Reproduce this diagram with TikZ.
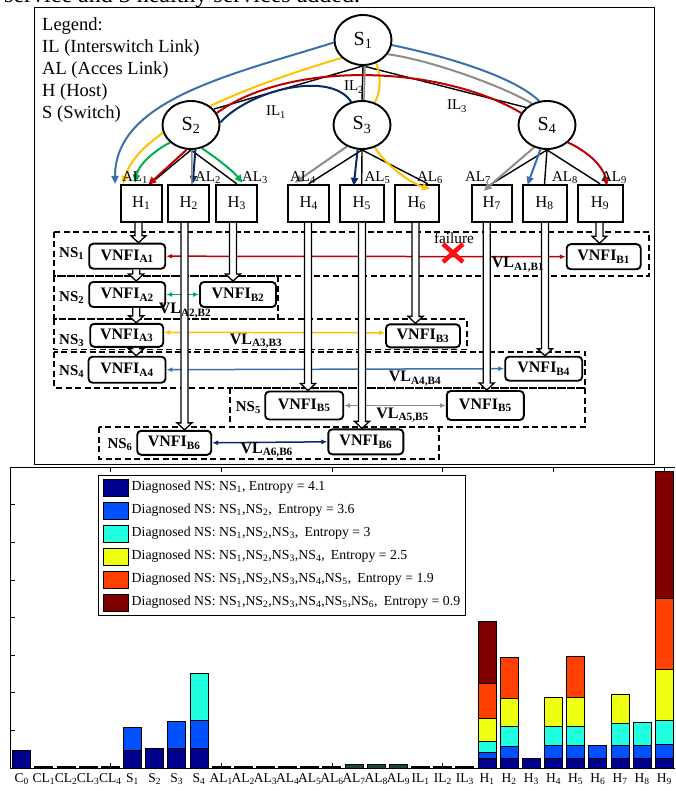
\documentclass[tikz,border=0pt]{standalone}
\usepackage{fontspec}
\setmainfont{Liberation Serif}
\usetikzlibrary{shapes.geometric,arrows.meta,calc}
\pgfdeclarelayer{fg}
\pgfsetlayers{main,fg}
\definecolor{cblue}{HTML}{3D6FA8}
\definecolor{cyel}{HTML}{FFC000}
\definecolor{cred}{HTML}{C00000}
\definecolor{cnavy}{HTML}{0A2A66}
\definecolor{cgreen}{HTML}{00B050}
\definecolor{cgray}{HTML}{8C8C8C}
\definecolor{xred}{HTML}{FF1010}
\definecolor{jnavy}{HTML}{00008F}
\definecolor{jblue}{HTML}{0050FF}
\definecolor{jcyan}{HTML}{20FFDF}
\definecolor{jyel}{HTML}{EFFF10}
\definecolor{jorange}{HTML}{FF4000}
\definecolor{jdred}{HTML}{800000}
\definecolor{jteal}{HTML}{1A4538}
\newcommand\fsz[1]{\fontsize{#1}{#1}\selectfont}
\newcommand\sbs[2]{#1\textsubscript{#2}}
\newcommand\hollowarr[2]{%
  \draw[hollowst] let \p1=(#1), \p2=(#2) in
   (\x1-3.5pt,\y1) -- (\x1-3.5pt,\y2+7pt) -- (\x1-7.5pt,\y2+7pt) -- (\x1,\y2)
   -- (\x1+7.5pt,\y2+7pt) -- (\x1+3.5pt,\y2+7pt) -- (\x1+3.5pt,\y1);}
\newcommand\bseg[4]{\draw[barst,fill=#1] ({21.7+22.16*#2-9},#3) rectangle ({21.7+22.16*#2+9},#4);}
\newcommand\stk[2]{\gdef\prevy{768}\foreach \c/\t in {#2} {\bseg{\c}{#1}{\prevy}{\t}\xdef\prevy{\t}}}
\tikzset{
 sw/.style={ellipse,draw,line width=1.9pt,fill=white,minimum width=57pt,minimum height=49pt,inner sep=0pt,font=\fsz{20}},
 host/.style={draw,line width=2pt,fill=white,minimum height=37pt,inner sep=0pt,font=\fsz{16.5}},
 vnf/.style={draw,rounded corners=4pt,line width=1.9pt,fill=white,minimum width=76pt,minimum height=25pt,inner sep=0pt,font=\bfseries\fsz{16}},
 nsbox/.style={line width=1.9pt,dash pattern=on 6pt off 3.5pt},
 nslab/.style={anchor=base,inner sep=0pt,font=\bfseries\fsz{15}},
 vllab/.style={anchor=base,inner sep=0pt,font=\bfseries\fsz{16}},
 lbl/.style={anchor=base,inner sep=0pt,font=\fsz{15}},
 blk/.style={line width=1.4pt},
 cur/.style={line width=2pt,-{Triangle[length=8pt,width=7pt]}},
 curn/.style={line width=2pt},
 vl/.style={line width=1.5pt,{Latex[length=6pt,width=5pt]}-{Latex[length=6pt,width=5pt]}},
 hollowst/.style={draw,fill=white,line width=1.3pt,line join=miter},
 barst/.style={draw=black,line width=0.9pt},
 tlab/.style={anchor=base,inner sep=0pt,font=\fsz{13.5}},
 leg/.style={anchor=base west,inner sep=0pt,font=\fsz{18.5}},
 cleg/.style={anchor=base west,inner sep=0pt,font=\fsz{13.8}},
}
\begin{document}
\begin{tikzpicture}[x=1pt,y=-1pt]
\useasboundingbox (0,0) rectangle (675,791);
\node[anchor=base west,inner sep=0pt,font=\fsz{24}] (cap) at (4,3) {service and 3 healthy services added.};
\draw[line width=0.9pt] (34,7) rectangle (654,464);
\node[leg] (lg0) at (42,30.5) {Legend:};
\node[leg] (lg1) at (42,52.5) {IL (Interswitch Link)};
\node[leg] (lg2) at (42,74.5) {AL (Acces Link)};
\node[leg] (lg3) at (42,96.5) {H (Host)};
\node[leg] (lg4) at (42,118.5) {S (Switch)};
% switches
\begin{pgfonlayer}{fg}
\node[sw,minimum height=50pt] (S1) at (363,40) {\sbs{S}{1}};
\node[sw,minimum height=48pt] (S2) at (191,125) {\sbs{S}{2}};
\node[sw,minimum height=48pt] (S3) at (362,125) {\sbs{S}{3}};
\node[sw,minimum height=48pt] (S4) at (547,125) {\sbs{S}{4}};
\end{pgfonlayer}
% hosts
\node[host,minimum width=41pt] (H1) at (141.2,203.3) {\sbs{H}{1}};
\node[host,minimum width=41pt] (H2) at (188.8,203.3) {\sbs{H}{2}};
\node[host,minimum width=41pt] (H3) at (236.7,203.3) {\sbs{H}{3}};
\node[host,minimum width=41pt] (H4) at (308.7,203.3) {\sbs{H}{4}};
\node[host,minimum width=44pt] (H5) at (361.7,203.3) {\sbs{H}{5}};
\node[host,minimum width=44pt] (H6) at (416.8,203.3) {\sbs{H}{6}};
\node[host,minimum width=40pt] (H7) at (491.7,203.3) {\sbs{H}{7}};
\node[host,minimum width=44pt] (H8) at (544.5,203.3) {\sbs{H}{8}};
\node[host,minimum width=45pt] (H9) at (600,203.3) {\sbs{H}{9}};
% black links
\draw[blk] (S1.south) -- (S2.35);
\draw[blk] (S1.south) -- (S3.north);
\draw[blk] (S1.south) -- (S4.140);
\draw[blk] (S2.south) -- ([xshift=9pt]H1.north);
\draw[blk] (S2.south) -- (H3.north);
\draw[blk] (S3.south) -- (H4.north);
\draw[blk] (S3.south) -- (H5.north);
\draw[blk] (S3.south) -- ([xshift=11pt]H6.north);
\draw[blk] (S4.south) -- (H7.north);
\draw[blk] (S4.south) -- (H8.north);
\draw[blk] (S4.south) -- (H9.north);
% free ends
\coordinate (eB1) at (115,184);
\coordinate (eY1) at (123,184);
\coordinate (eY6) at (430,189);
% coloured paths
\draw[cur,cblue] (S1.185) .. controls (230,75) and (115,100) .. (eB1);
\draw[curn,cblue] (S1.-10) .. controls (440,55) and (512,75) .. (S4.108);
\draw[cur,cblue] (S4.-105) -- ([xshift=-17pt,yshift=-1pt]H8.north);
\draw[cur,cyel] (S1.220) .. controls (260,82) and (140,125) .. (eY1);
\draw[curn,cyel] (S1.-60) .. controls (381,77) and (381,90) .. (S3.60);
\draw[cur,cyel] (S3.-60) .. controls (382,160) and (405,181) .. (eY6);
\draw[curn,cred] (S2.25) .. controls (290,60) and (440,65) .. (S4.155);
\draw[cur,cred] (S2.-100) -- ([xshift=7pt,yshift=-1pt]H1.north);
\draw[cur,cred] (S4.-40) .. controls (585,150) and (603,165) .. ([xshift=7pt,yshift=-2pt]H9.north);
\draw[curn,cnavy] (S2.5) .. controls (250,90) and (330,70) .. (S3.115);
\draw[cur,cnavy] (S2.-80) -- ([xshift=4pt]H2.north);
\draw[cur,cnavy] (S3.-100) -- ([xshift=-8pt,yshift=-2pt]H5.north);
\draw[cur,cgreen] (S2.220) .. controls (155,150) and (138,165) .. ([xshift=-6pt,yshift=1pt]H1.north);
\draw[cur,cgreen] (S2.-65) .. controls (215,157) and (232,170) .. ([xshift=6pt,yshift=1pt]H3.north);
\draw[line width=1.6pt,cgray] ([xshift=2pt]S1.south) -- ([xshift=2pt]S3.north);
\draw[curn,cgray] (S1.-30) .. controls (430,60) and (500,85) .. (S4.125);
\draw[cur,cgray] (S3.-125) -- ([xshift=-14pt,yshift=1pt]H4.north);
\draw[cur,cgray] (S4.-120) -- ([xshift=-8pt,yshift=-7pt]H7.north);
\draw[line width=1.5pt,cgray] ([xshift=1pt]S2.south) -- ([xshift=3pt]H2.north);
% link labels
\node[lbl] (al1) at (135,181.5) {\sbs{AL}{1}};
\node[lbl] (al2) at (208,181.5) {\sbs{AL}{2}};
\node[lbl] (al3) at (255,181.5) {\sbs{AL}{3}};
\node[lbl] (al4) at (303,181.5) {\sbs{AL}{4}};
\node[lbl] (al5) at (377.5,181.5) {\sbs{AL}{5}};
\node[lbl] (al6) at (430,181.5) {\sbs{AL}{6}};
\node[lbl] (al7) at (478,181.5) {\sbs{AL}{7}};
\node[lbl] (al8) at (565,181.5) {\sbs{AL}{8}};
\node[lbl] (al9) at (614,181.5) {\sbs{AL}{9}};
\node[lbl] (il1) at (276,116) {\sbs{IL}{1}};
\node[lbl] (il2) at (354,91) {\sbs{IL}{2}};
\node[lbl] (il3) at (457,110) {\sbs{IL}{3}};
% network service boxes
\draw[nsbox] (54,231.7) rectangle (649.3,276);
\draw[nsbox] (54,276) rectangle (278,319);
\draw[nsbox] (54,319) rectangle (466.7,349.5);
\draw[nsbox] (54,351.7) rectangle (585,387.7);
\draw[nsbox] (230,387.7) rectangle (585,427.3);
\draw[nsbox] (99.3,427.3) rectangle (439.3,459);
% VNFI nodes
\node[vnf] (A1) at (127.2,256.2) {VNFI\textsubscript{A1}};
\node[vnf,minimum width=74pt] (B1) at (603.7,256.7) {VNFI\textsubscript{B1}};
\node[vnf] (A2) at (127.2,294.5) {VNFI\textsubscript{A2}};
\node[vnf] (B2) at (238,294.5) {VNFI\textsubscript{B2}};
\node[vnf,minimum width=73pt,minimum height=23pt] (A3) at (126.7,335.3) {VNFI\textsubscript{A3}};
\node[vnf,minimum width=74pt,minimum height=23pt] (B3) at (423,335.8) {VNFI\textsubscript{B3}};
\node[vnf,minimum width=77pt,minimum height=26pt] (A4) at (127,369.7) {VNFI\textsubscript{A4}};
\node[vnf,minimum width=77pt,minimum height=24pt] (B4) at (543.7,368.7) {VNFI\textsubscript{B4}};
\node[vnf,minimum width=78pt,minimum height=28pt] (B5L) at (304.2,405.5) {VNFI\textsubscript{B5}};
\node[vnf,minimum width=77pt,minimum height=29pt] (B5R) at (485.3,405.5) {VNFI\textsubscript{B5}};
\node[vnf,minimum width=74pt,minimum height=24pt] (B6L) at (174.2,442.8) {VNFI\textsubscript{B6}};
\node[vnf,minimum width=75pt,minimum height=25pt] (B6R) at (365.8,441.8) {VNFI\textsubscript{B6}};
% virtual links
\draw[vl,cred] (A1.east) -- (B1.west);
\draw[vl,cgreen] (A2.east) -- (B2.west);
\draw[vl,cyel] ([yshift=3pt]A3.east) -- ([yshift=3pt]B3.west);
\draw[vl,cblue] (A4.east) -- (B4.west);
\draw[vl,cgray] (B5L.east) -- (B5R.west);
\draw[vl,cnavy] (B6L.east) -- (B6R.west);
% hollow arrows
\hollowarr{[xshift=-2.7pt]H1.south}{A1.north}
\hollowarr{[xshift=9pt]A1.south}{A2.north}
\hollowarr{[xshift=9pt]A2.south}{A3.north}
\hollowarr{[xshift=9.5pt]A3.south}{A4.north}
\hollowarr{[xshift=-4.3pt]H2.south}{B6L.north}
\hollowarr{[xshift=-3.7pt]H3.south}{B2.north}
\hollowarr{[xshift=-0.7pt]H4.south}{B5L.north}
\hollowarr{[xshift=0.3pt]H5.south}{B6R.north}
\hollowarr{[xshift=-1.3pt]H6.south}{B3.north}
\hollowarr{[xshift=-5pt]H7.south}{B5R.north}
\hollowarr{[xshift=0.5pt]H8.south}{B4.north}
\hollowarr{[xshift=-0.5pt]H9.south}{B1.north}
% failure
\node[lbl,font=\fsz{15.3}] (fail) at (454,243.5) {failure};
\draw[xred,line width=4.5pt] (443,244) -- (463,262) (443,262) -- (463,244);
% labels
\node[nslab] (ns1) at (71.7,257.3) {NS\textsubscript{1}};
\node[nslab] (ns2) at (71.7,301.7) {NS\textsubscript{2}};
\node[nslab] (ns3) at (71.7,344) {NS\textsubscript{3}};
\node[nslab] (ns4) at (71.7,375) {NS\textsubscript{4}};
\node[nslab] (ns5) at (248.3,411.7) {NS\textsubscript{5}};
\node[nslab] (ns6) at (120,448.3) {NS\textsubscript{6}};
\node[vllab] (vl1) at (518,268) {VL\textsubscript{A1,B1}};
\node[vllab] (vl2) at (185,313.5) {VL\textsubscript{A2,B2}};
\node[vllab] (vl3) at (256,344) {VL\textsubscript{A3,B3}};
\node[vllab] (vl4) at (415,381.5) {VL\textsubscript{A4,B4}};
\node[vllab] (vl5) at (402.5,418) {VL\textsubscript{A5,B5}};
\node[vllab] (vl6) at (266.7,453) {VL\textsubscript{A6,B6}};
% ---------------- chart ----------------
\draw[line width=0.9pt] (675,467) -- (10,467) -- (10,768) -- (675,768);
\foreach \k in {1,...,7} \draw[line width=0.8pt] (10,{768-37.6*\k}) -- (15,{768-37.6*\k});
\foreach \i in {4,9,14,19,24,29} {
  \draw[line width=0.8pt] ({21.7+22.16*\i},768) -- ({21.7+22.16*\i},763);
  \draw[line width=0.8pt] ({21.7+22.16*\i},467) -- ({21.7+22.16*\i},472);
}
\foreach \i in {1,2,3,4,9,10,11,12,13,14,18,19,20} {\bseg{black}{\i}{768}{766}}
\foreach \i in {15,16,17} {\bseg{jteal}{\i}{768}{764}}
\stk{0}{jnavy/750.7}
\stk{5}{jnavy/750.7,jblue/727.3}
\stk{6}{jnavy/748.3}
\stk{7}{jnavy/748.3,jblue/721.7}
\stk{8}{jnavy/748.3,jblue/720.3,jcyan/673.3}
\stk{21}{jnavy/758.3,jblue/752.3,jcyan/741.7,jyel/718.3,jorange/683.3,jdred/621.7}
\stk{22}{jnavy/758.3,jblue/746.7,jcyan/726.7,jyel/698.7,jorange/657.3}
\stk{23}{jnavy/758.3}
\stk{24}{jnavy/758.3,jblue/745,jcyan/726,jyel/697.7}
\stk{25}{jnavy/758.3,jblue/745,jcyan/726,jyel/697.7,jorange/656.7}
\stk{26}{jnavy/758.3,jblue/745}
\stk{27}{jnavy/758.3,jblue/745,jcyan/723.3,jyel/694.3}
\stk{28}{jnavy/758.3,jblue/745,jcyan/722.7}
\stk{29}{jnavy/758.3,jblue/744.3,jcyan/720,jyel/669.3,jorange/598.3,jdred/471.7}
\foreach \i/\a/\b in {0/C/0,1/CL/1,2/CL/2,3/CL/3,4/CL/4,5/S/1,6/S/2,7/S/3,8/S/4,9/AL/1,10/AL/2,11/AL/3,12/AL/4,13/AL/5,14/AL/6,15/AL/7,16/AL/8,17/AL/9,18/IL/1,19/IL/2,20/IL/3,21/H/1,22/H/2,23/H/3,24/H/4,25/H/5,26/H/6,27/H/7,28/H/8,29/H/9}
  {\node[tlab] (t\i) at ({21.7+22.16*\i},782) {\sbs{\a}{\b}};}
% chart legend
\draw[line width=1pt,fill=white] (98,475) rectangle (465,615);
\foreach \r/\c in {0/jnavy,1/jblue,2/jcyan,3/jyel,4/jorange,5/jdred}
  {\draw[barst,fill=\c] (103.3,{479+23.1*\r}) rectangle (128.3,{496+23.1*\r});}
\node[cleg] (c1) at (131.5,490) {Diagnosed NS: \sbs{NS}{1}, Entropy = 4.1};
\node[cleg] (c2) at (131.5,513.1) {Diagnosed NS: \sbs{NS}{1},\sbs{NS}{2},\hspace{0.45em}Entropy = 3.6};
\node[cleg] (c3) at (131.5,536.2) {Diagnosed NS: \sbs{NS}{1},\sbs{NS}{2},\sbs{NS}{3},\hspace{0.45em}Entropy = 3};
\node[cleg] (c4) at (131.5,559.3) {Diagnosed NS: \sbs{NS}{1},\sbs{NS}{2},\sbs{NS}{3},\sbs{NS}{4},\hspace{0.45em}Entropy = 2.5};
\node[cleg] (c5) at (131.5,582.4) {Diagnosed NS: \sbs{NS}{1},\sbs{NS}{2},\sbs{NS}{3},\sbs{NS}{4},\sbs{NS}{5},\hspace{0.45em}Entropy = 1.9};
\node[cleg] (c6) at (131.5,605.5) {Diagnosed NS: \sbs{NS}{1},\sbs{NS}{2},\sbs{NS}{3},\sbs{NS}{4},\sbs{NS}{5},\sbs{NS}{6},\hspace{0.45em}Entropy = 0.9};
\end{tikzpicture}
\end{document}
